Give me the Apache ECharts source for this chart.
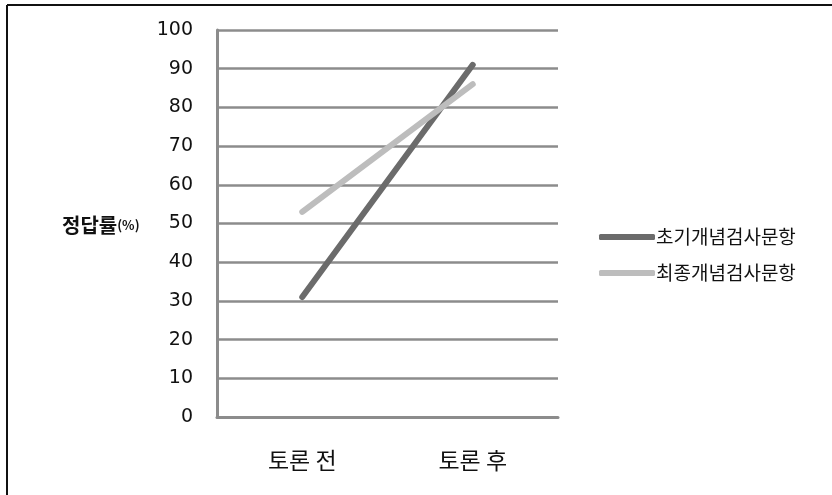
<!DOCTYPE html>
<html>
<head>
<meta charset="utf-8">
<style>
  html, body { margin: 0; padding: 0; background: #fff; }
  #chart { width: 832px; height: 495px; }
</style>
<script src="https://cdn.jsdelivr.net/npm/echarts@6/dist/echarts.min.js"></script>
</head>
<body>
<div id="chart"></div>
<script>
// Correct-answer rate before and after the discussion
const categories = ['토론 전', '토론 후'];
const initialItems = [31, 91];   // 초기개념 검사문항
const finalItems = [53, 86];     // 최종개념 검사문항
const seriesNames = ['초기개념검사문항', '최종개념검사문항'];
const yTicks = { min: 0, max: 100, interval: 10 };

const FONT = '"Noto Sans CJK KR", "Noto Sans", sans-serif';
const NUM_FONT = '"DejaVu Sans", Verdana, sans-serif';

const chart = echarts.init(document.getElementById('chart'), null, { renderer: 'canvas' });

chart.setOption({
  backgroundColor: '#ffffff',
  animation: false,
  textStyle: { fontFamily: FONT },
  graphic: [
    // frame around the chart (top and left edges)
    { type: 'line', shape: { x1: 7, y1: 5, x2: 832, y2: 5 }, style: { stroke: '#111', lineWidth: 2 } },
    { type: 'line', shape: { x1: 7, y1: 5, x2: 7, y2: 495 }, style: { stroke: '#111', lineWidth: 2 } },
    // y-axis title
    {
      type: 'text', x: 62, y: 225,
      style: {
        text: '{a|정답률}{b|(%)}',
        verticalAlign: 'middle',
        rich: {
          a: { fontFamily: FONT, fontWeight: 'bold', fontSize: 20, fill: '#111' },
          b: { fontFamily: FONT, fontWeight: 'bold', fontSize: 13, fill: '#111' }
        }
      }
    }
  ],
  grid: { left: 217, right: 274, top: 30, bottom: 78 },
  legend: {
    orient: 'vertical',
    left: 594, top: 222,
    itemWidth: 56, itemHeight: 6,
    itemGap: 16,
    icon: 'roundRect',
    textStyle: { fontSize: 19, lineHeight: 20, color: '#111', fontFamily: FONT, padding: [0, 0, 0, -4] },
    data: seriesNames
  },
  xAxis: {
    type: 'category',
    data: categories,
    boundaryGap: true,
    axisLine: { show: true, lineStyle: { color: '#8c8c8c', width: 3 } },
    axisTick: { show: false },
    axisLabel: { color: '#111', fontSize: 23, margin: 32, fontFamily: FONT }
  },
  yAxis: {
    type: 'value',
    min: yTicks.min, max: yTicks.max, interval: yTicks.interval,
    axisLine: { show: true, lineStyle: { color: '#8c8c8c', width: 3 } },
    axisTick: { show: false },
    axisLabel: { color: '#111', fontSize: 19, margin: 24, fontFamily: NUM_FONT },
    splitLine: { show: true, lineStyle: { color: '#8c8c8c', width: 2.5 } }
  },
  series: [
    {
      name: seriesNames[0], type: 'line', data: initialItems,
      symbol: 'none', color: '#6b6b6b',
      lineStyle: { width: 6, color: '#6b6b6b', cap: 'round' }
    },
    {
      name: seriesNames[1], type: 'line', data: finalItems,
      symbol: 'none', color: '#bdbdbd',
      lineStyle: { width: 6, color: '#bdbdbd', cap: 'round' }
    }
  ]
});
</script>
</body>
</html>
